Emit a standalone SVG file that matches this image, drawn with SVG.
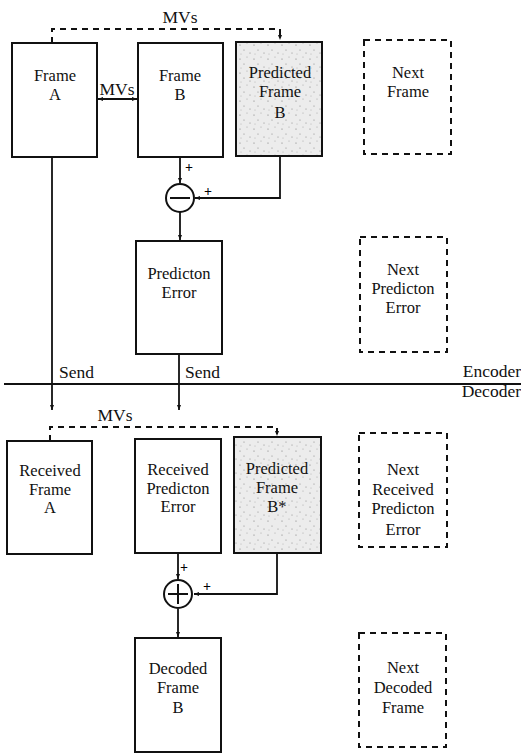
<svg xmlns="http://www.w3.org/2000/svg" width="521" height="754" viewBox="0 0 521 754">
  <style>
    text { font-family: "Liberation Serif", "Times New Roman", serif; font-size: 16.5px; fill: #111; text-anchor: middle; }
    .small { font-size: 14px; font-weight: bold; fill: #000; }
    .box { fill: #fff; stroke: #111; stroke-width: 2; }
    .pred { fill: url(#stipple); stroke: #111; stroke-width: 2; }
    .next { fill: none; stroke: #111; stroke-width: 2; stroke-dasharray: 6 5; }
    .wire { fill: none; stroke: #111; stroke-width: 1.8; }
    .mv { fill: none; stroke: #111; stroke-width: 2; stroke-dasharray: 6 5; }
    .op { fill: #fff; stroke: #111; stroke-width: 2; }
  </style>
  <defs>
    <pattern id="stipple" width="14" height="14" patternUnits="userSpaceOnUse">
      <rect width="14" height="14" fill="#ececec"/>
      <circle cx="2" cy="3" r="0.6" fill="#777"/>
      <circle cx="9" cy="1" r="0.5" fill="#999"/>
      <circle cx="6" cy="8" r="0.6" fill="#888"/>
      <circle cx="12" cy="11" r="0.5" fill="#777"/>
      <circle cx="3" cy="12" r="0.5" fill="#aaa"/>
    </pattern>
    <marker id="arrow" viewBox="0 0 10 10" refX="10" refY="5" markerWidth="5" markerHeight="5" orient="auto-start-reverse" markerUnits="userSpaceOnUse">
      <path d="M0,1 L10,5 L0,9 Z" fill="#111"/>
    </marker>
  </defs>

  <!-- connectors -->
  <g id="connectors">
    <!-- encoder: motion vectors -->
    <path class="mv" d="M52,43 V29 H280 V40" marker-end="url(#arrow)"/>
    <line class="wire" x1="98" y1="99" x2="137" y2="99" marker-start="url(#arrow)" marker-end="url(#arrow)"/>
    <!-- encoder: subtraction -->
    <line class="wire" x1="180" y1="157" x2="180" y2="183" marker-end="url(#arrow)"/>
    <path class="wire" d="M280,156 V198 H195" marker-end="url(#arrow)"/>
    <line class="wire" x1="180" y1="212" x2="180" y2="240" marker-end="url(#arrow)"/>
    <!-- transmission -->
    <line class="wire" x1="52" y1="157" x2="52" y2="410" marker-end="url(#arrow)"/>
    <line class="wire" x1="179" y1="354" x2="179" y2="410" marker-end="url(#arrow)"/>
    <line x1="4" y1="384" x2="521" y2="384" stroke="#111" stroke-width="1.8"/>
    <!-- decoder: motion vectors -->
    <path class="mv" d="M50,441 V427 H277 V436" marker-end="url(#arrow)"/>
    <!-- decoder: addition -->
    <line class="wire" x1="178" y1="553" x2="178" y2="579" marker-end="url(#arrow)"/>
    <path class="wire" d="M277,553 V594 H194" marker-end="url(#arrow)"/>
    <line class="wire" x1="178" y1="609" x2="178" y2="637" marker-end="url(#arrow)"/>
  </g>

  <!-- connector labels -->
  <g id="labels">
    <text x="180" y="23" style="font-size:17.5px">MVs</text>
    <text x="117" y="95" style="font-size:17.5px">MVs</text>
    <text class="small" x="189" y="172">+</text>
    <text class="small" x="208" y="196">+</text>
    <text x="59" y="378" style="text-anchor:start;font-size:17.5px">Send</text>
    <text x="185" y="378" style="text-anchor:start;font-size:17.5px">Send</text>
    <text x="521" y="377" style="text-anchor:end;font-size:17.5px">Encoder</text>
    <text x="521" y="397" style="text-anchor:end;font-size:17.5px">Decoder</text>
    <text x="115" y="421" style="font-size:17.5px">MVs</text>
    <text class="small" x="184" y="572">+</text>
    <text class="small" x="207" y="591">+</text>
  </g>

  <!-- encoder nodes -->
  <g id="frame-a">
    <rect class="box" x="12" y="43" width="85" height="114"/>
    <text x="55" y="81">Frame</text>
    <text x="55" y="100">A</text>
  </g>
  <g id="frame-b">
    <rect class="box" x="138" y="43" width="85" height="114"/>
    <text x="180" y="81">Frame</text>
    <text x="180" y="100">B</text>
  </g>
  <g id="predicted-frame-b">
    <rect class="pred" x="236" y="42" width="86" height="114"/>
    <text x="280" y="78">Predicted</text>
    <text x="280" y="96.5">Frame</text>
    <text x="280" y="118">B</text>
  </g>
  <g id="next-frame">
    <rect class="next" x="364" y="40" width="87" height="114"/>
    <text x="408" y="78">Next</text>
    <text x="408" y="96.5">Frame</text>
  </g>
  <g id="subtract">
    <circle class="op" cx="180" cy="198" r="14"/>
    <line x1="170" y1="198" x2="190" y2="198" stroke="#111" stroke-width="2"/>
  </g>
  <g id="prediction-error">
    <rect class="box" x="136" y="241" width="86" height="113"/>
    <text x="179" y="279">Predicton</text>
    <text x="179" y="297.5">Error</text>
  </g>
  <g id="next-prediction-error">
    <rect class="next" x="360" y="237" width="87" height="115"/>
    <text x="403" y="275">Next</text>
    <text x="403" y="294">Predicton</text>
    <text x="403" y="313">Error</text>
  </g>

  <!-- decoder nodes -->
  <g id="received-frame-a">
    <rect class="box" x="7" y="441" width="85" height="113"/>
    <text x="50" y="476">Received</text>
    <text x="50" y="494.5">Frame</text>
    <text x="50" y="513">A</text>
  </g>
  <g id="received-prediction-error">
    <rect class="box" x="135" y="439" width="86" height="114"/>
    <text x="178" y="475">Received</text>
    <text x="178" y="493.5">Predicton</text>
    <text x="178" y="512">Error</text>
  </g>
  <g id="predicted-frame-b-star">
    <rect class="pred" x="234" y="437" width="87" height="116"/>
    <text x="277" y="474">Predicted</text>
    <text x="277" y="492.5">Frame</text>
    <text x="277" y="512">B*</text>
  </g>
  <g id="next-received-prediction-error">
    <rect class="next" x="359" y="433" width="88" height="114"/>
    <text x="403" y="475">Next</text>
    <text x="403" y="495">Received</text>
    <text x="403" y="514">Predicton</text>
    <text x="403" y="535">Error</text>
  </g>
  <g id="add">
    <circle class="op" cx="178" cy="594" r="14"/>
    <line x1="168" y1="594" x2="188" y2="594" stroke="#111" stroke-width="2"/>
    <line x1="178" y1="584" x2="178" y2="604" stroke="#111" stroke-width="2"/>
  </g>
  <g id="decoded-frame-b">
    <rect class="box" x="135" y="638" width="86" height="114"/>
    <text x="178" y="674">Decoded</text>
    <text x="178" y="692.5">Frame</text>
    <text x="178" y="713">B</text>
  </g>
  <g id="next-decoded-frame">
    <rect class="next" x="359" y="633" width="87" height="114"/>
    <text x="403" y="673">Next</text>
    <text x="403" y="693">Decoded</text>
    <text x="403" y="713">Frame</text>
  </g>
</svg>
